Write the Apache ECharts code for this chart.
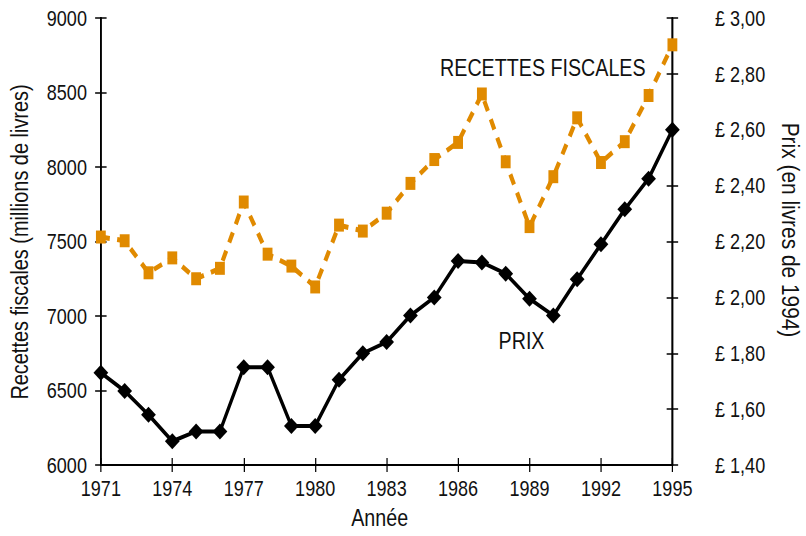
<!DOCTYPE html>
<html lang="fr">
<head>
<meta charset="utf-8">
<script src="https://cdn.jsdelivr.net/npm/echarts@6/dist/echarts.min.js"></script>
<style>
  html, body { margin: 0; padding: 0; background: #fff; overflow: hidden; }
  /* the original is drawn with a narrow font, so the whole chart is drawn wider and squeezed */
  #main { width: 983px; height: 536px; transform: scaleX(0.82); transform-origin: 0 0; }
</style>
</head>
<body>
<div id="main"></div>
<script type="text/javascript">
    var years = ['1971', '1972', '1973', '1974', '1975', '1976', '1977', '1978', '1979', '1980', '1981', '1982',
        '1983', '1984', '1985', '1986', '1987', '1988', '1989', '1990', '1991', '1992', '1993', '1994', '1995'];
    // recettes fiscales, millions de livres (axe gauche)
    var recettes = [7530, 7505, 7290, 7390, 7250, 7320, 7765, 7415, 7335, 7195, 7610, 7570,
        7690, 7890, 8050, 8165, 8490, 8035, 7600, 7935, 8330, 8030, 8170, 8480, 8820];
    // prix en livres de 1994 (axe droit)
    var prix = [1.73, 1.665, 1.58, 1.485, 1.52, 1.52, 1.75, 1.75, 1.54, 1.54, 1.705, 1.80,
        1.84, 1.935, 2.00, 2.13, 2.125, 2.085, 1.995, 1.935, 2.065, 2.19, 2.315, 2.425, 2.60];

    var font = '"Liberation Sans", Arial, sans-serif';
    var txt = '#111';

    var myChart = echarts.init(document.getElementById('main'), null, { renderer: 'svg' });

    function yAxis(grid, side, inside, min, max, step) {
        return {
            type: 'value',
            gridIndex: grid,
            position: side,
            min: min, max: max, interval: step,
            axisLine: { show: true, lineStyle: { color: '#000', width: 2 } },
            axisTick: { show: true, inside: inside, length: 7, lineStyle: { color: '#000', width: 1.5 } },
            axisLabel: { show: false },
            splitLine: { show: false }
        };
    }

    function xAxis(grid, inside, labels) {
        return {
            type: 'category',
            gridIndex: grid,
            data: years,
            boundaryGap: false,
            position: 'bottom',
            axisLine: { show: true, lineStyle: { color: '#000', width: 2 } },
            axisTick: { show: true, inside: inside, interval: 2, length: 7, lineStyle: { color: '#000', width: 1.5 } },
            axisLabel: { show: labels, interval: 2, color: txt, fontFamily: font, fontSize: 22, margin: 12 },
            splitLine: { show: false }
        };
    }

    var yLeft = yAxis(0, 'left', false, 6000, 9000, 500);
    yLeft.axisLabel = {
        color: txt, fontFamily: font, fontSize: 22, margin: 17,
        formatter: function (v) { return String(v); }
    };
    var yRight = yAxis(0, 'right', false, 1.4, 3.0, 0.2);
    yRight.axisLabel = {
        color: txt, fontFamily: font, fontSize: 22, margin: 52,
        formatter: function (v) { return '£ ' + v.toFixed(2).replace('.', ','); }
    };

    var option = {
        backgroundColor: '#fff',
        animation: false,
        grid: [
            { left: 123, right: 163, top: 18, bottom: 71 },
            { left: 123, right: 163, top: 18, bottom: 71 }
        ],
        xAxis: [xAxis(0, false, true), xAxis(1, true, false)],
        yAxis: [
            yLeft,
            yRight,
            yAxis(1, 'left', true, 6000, 9000, 500),
            yAxis(1, 'right', true, 1.4, 3.0, 0.2)
        ],
        graphic: [
            { type: 'text', x: 463, y: 518, style: { text: 'Année', fontFamily: font, fontSize: 24, fill: txt, align: 'center', verticalAlign: 'middle' } },
            // rotated names: narrow along the text, full height across it
            { type: 'text', x: 24, y: 242, rotation: Math.PI / 2, scaleX: 0.83, scaleY: 1.2,
                style: { text: 'Recettes fiscales (millions de livres)', fontFamily: font, fontSize: 24, fill: txt, align: 'center', verticalAlign: 'middle' } },
            { type: 'text', x: 963, y: 230, rotation: -Math.PI / 2, scaleX: 0.87, scaleY: 1.2,
                style: { text: 'Prix (en livres de 1994)', fontFamily: font, fontSize: 24, fill: txt, align: 'center', verticalAlign: 'middle' } },
            { type: 'text', x: 662, y: 68, style: { text: 'RECETTES FISCALES', fontFamily: font, fontSize: 24, fill: txt, align: 'center', verticalAlign: 'middle' } },
            { type: 'text', x: 636, y: 341, style: { text: 'PRIX', fontFamily: font, fontSize: 24, fill: txt, align: 'center', verticalAlign: 'middle' } }
        ],
        series: [
            {
                name: 'Recettes fiscales',
                type: 'line',
                xAxisIndex: 0,
                yAxisIndex: 0,
                data: recettes,
                symbol: 'rect',
                symbolSize: [12, 13],
                itemStyle: { color: '#e08a00' },
                lineStyle: { color: '#e08a00', width: 5, type: [11, 9] },
                z: 2
            },
            {
                name: 'Prix',
                type: 'line',
                xAxisIndex: 0,
                yAxisIndex: 1,
                data: prix,
                symbol: 'diamond',
                symbolSize: [18, 16],
                itemStyle: { color: '#000' },
                lineStyle: { color: '#000', width: 4 },
                z: 3
            }
        ]
    };
    myChart.setOption(option);
</script>
</body>
</html>
